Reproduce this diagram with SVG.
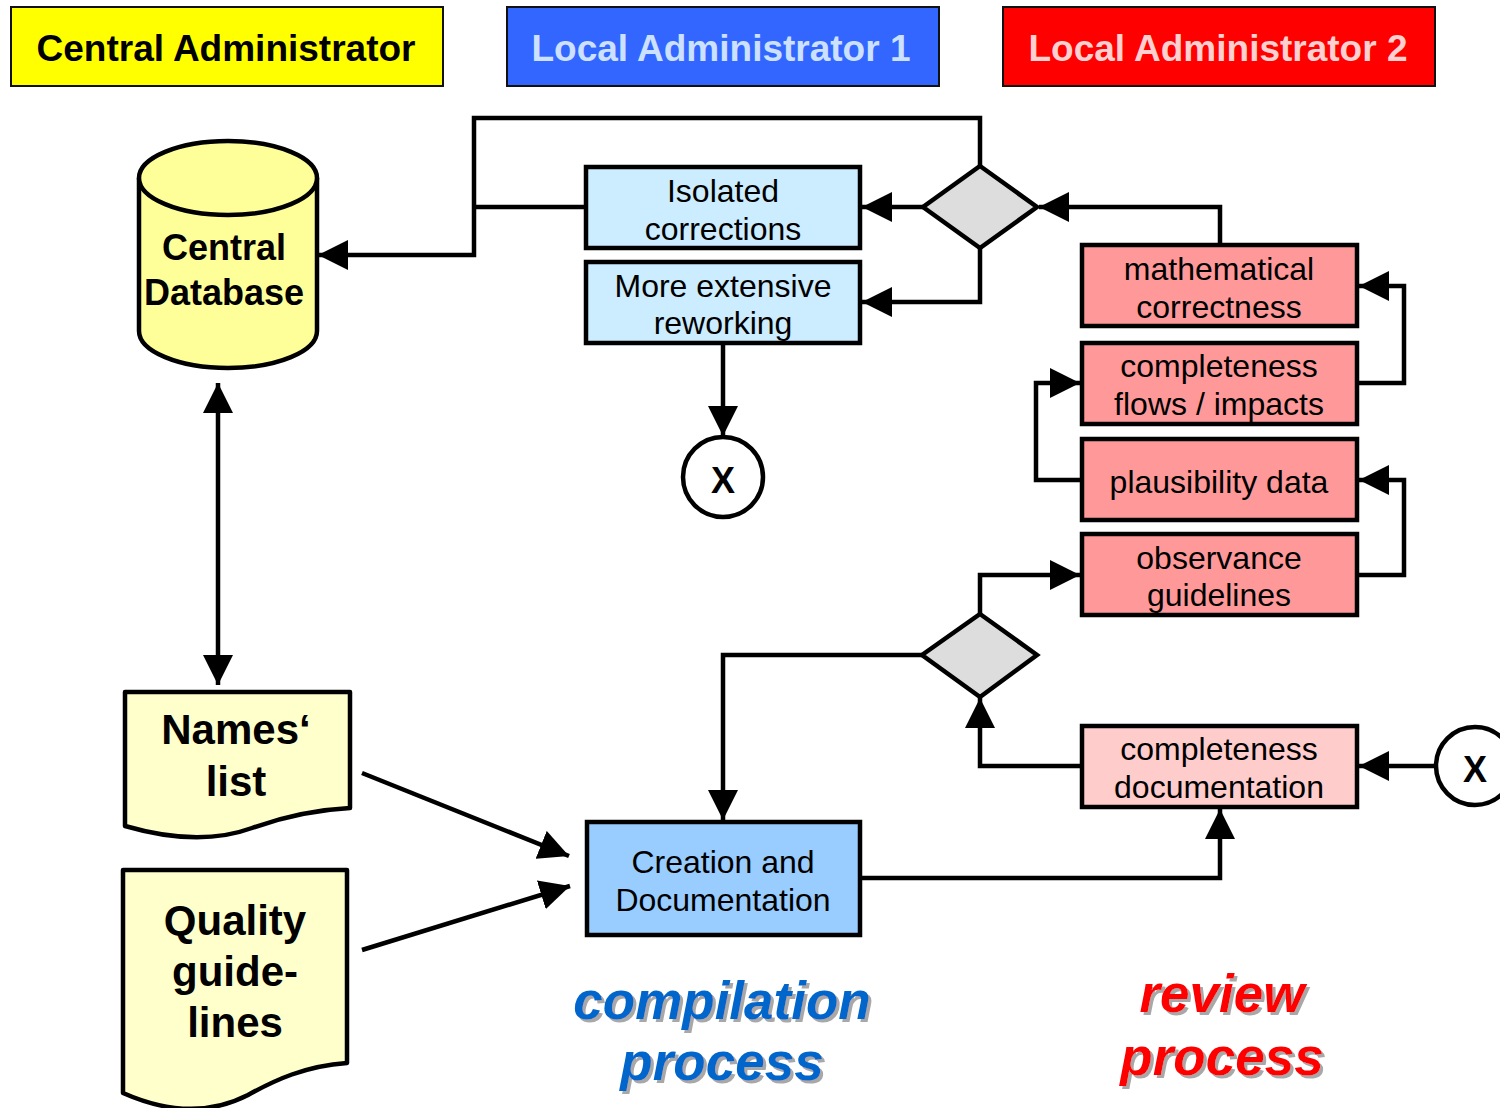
<svg xmlns="http://www.w3.org/2000/svg" width="1500" height="1108" viewBox="0 0 1500 1108">
<defs>
<marker id="arr" viewBox="0 0 30 30" refX="30" refY="15" markerWidth="30" markerHeight="30" markerUnits="userSpaceOnUse" orient="auto-start-reverse">
<path d="M0,0 L30,15 L0,30 Z" fill="#000"/>
</marker>
<filter id="shadow" x="-5%" y="-5%" width="115%" height="120%">
<feDropShadow dx="3" dy="3" stdDeviation="0.5" flood-color="#A8A8A8" flood-opacity="1"/>
</filter>
</defs>
<style>
.hdr{stroke:#111;stroke-width:2}
.box{stroke:#000;stroke-width:4.5}
.t{font-family:"Liberation Sans",Arial,sans-serif;font-size:32px;fill:#000;text-anchor:middle}
.hb{font-family:"Liberation Sans",Arial,sans-serif;font-size:37px;font-weight:bold;text-anchor:middle}
.db{font-family:"Liberation Sans",Arial,sans-serif;font-size:36px;font-weight:bold;fill:#000;text-anchor:middle}
.doc{font-family:"Liberation Sans",Arial,sans-serif;font-size:42px;font-weight:bold;fill:#000;text-anchor:middle}
.big{font-family:"Liberation Sans",Arial,sans-serif;font-size:53px;font-weight:bold;font-style:italic;text-anchor:middle;filter:url(#shadow)}
.c{fill:none;stroke:#000;stroke-width:4.5;stroke-linejoin:miter}
.a{marker-end:url(#arr)}
</style>
<rect width="1500" height="1108" fill="#fff"/>

<g id="hdr-central">
<rect class="hdr" x="11" y="7" width="432" height="79" fill="#FFFF00"/>
<text class="hb" x="226" y="61" fill="#000">Central Administrator</text>
</g>
<g id="hdr-local1">
<rect class="hdr" x="507" y="7" width="432" height="79" fill="#3366FF"/>
<text class="hb" x="721" y="61" fill="#CCE0FF">Local Administrator 1</text>
</g>
<g id="hdr-local2">
<rect class="hdr" x="1003" y="7" width="432" height="79" fill="#FF0000"/>
<text class="hb" x="1218" y="61" fill="#FFD0D0">Local Administrator 2</text>
</g>

<g id="connectors">
<path class="c a" d="M980,167 V118 H474 V255 H318"/>
<path class="c" d="M586,207 H474"/>
<path class="c a" d="M923,207 H862"/>
<path class="c a" d="M980,247 V302 H862"/>
<path class="c a" d="M1220,245 V207 H1039"/>
<path class="c a" d="M1357,383 H1404 V286 H1359"/>
<path class="c a" d="M1082,480 H1036 V383 H1080"/>
<path class="c a" d="M1357,575 H1404 V480 H1359"/>
<path class="c a" d="M980,614 V575 H1080"/>
<path class="c a" d="M922,655 H723 V820"/>
<path class="c a" d="M1082,766 H980 V698"/>
<path class="c a" d="M1436,766 H1359"/>
<path class="c a" d="M860,878 H1220 V809"/>
<path class="c a" d="M723,343 V436"/>
<path class="c a" d="M218,383 V685" marker-start="url(#arr)"/>
<path class="c a" d="M362,773 L569,856"/>
<path class="c a" d="M362,950 L570,886"/>
</g>

<g id="central-database">
<path d="M139,178 V331 A89,37 0 0 0 317,331 V178" fill="#FFFF99" stroke="#000" stroke-width="4.5"/>
<ellipse cx="228" cy="178" rx="89" ry="37" fill="#FFFF99" stroke="#000" stroke-width="4.5"/>
<text class="db" x="224" y="260">Central</text>
<text class="db" x="224" y="305">Database</text>
</g>

<g id="isolated-corrections">
<rect class="box" x="586" y="167" width="274" height="81" fill="#CCECFF"/>
<text class="t" x="723" y="202">Isolated</text>
<text class="t" x="723" y="240">corrections</text>
</g>
<g id="more-extensive-reworking">
<rect class="box" x="586" y="262" width="274" height="81" fill="#CCECFF"/>
<text class="t" x="723" y="297">More extensive</text>
<text class="t" x="723" y="334">reworking</text>
</g>

<g id="decision-1">
<path d="M980,166 L1037,207 L980,248 L923,207 Z" fill="#DDDDDD" stroke="#000" stroke-width="4.5"/>
</g>

<g id="exit-1">
<circle cx="723" cy="477" r="40" fill="#fff" stroke="#000" stroke-width="4.5"/>
<text class="db" x="723" y="493" font-size="32">X</text>
</g>

<g id="mathematical-correctness">
<rect class="box" x="1082" y="245" width="275" height="81" fill="#FF9999"/>
<text class="t" x="1219" y="280">mathematical</text>
<text class="t" x="1219" y="318">correctness</text>
</g>
<g id="completeness-flows">
<rect class="box" x="1082" y="343" width="275" height="81" fill="#FF9999"/>
<text class="t" x="1219" y="377">completeness</text>
<text class="t" x="1219" y="415">flows / impacts</text>
</g>
<g id="plausibility-data">
<rect class="box" x="1082" y="439" width="275" height="81" fill="#FF9999"/>
<text class="t" x="1219" y="493">plausibility data</text>
</g>
<g id="observance-guidelines">
<rect class="box" x="1082" y="534" width="275" height="81" fill="#FF9999"/>
<text class="t" x="1219" y="569">observance</text>
<text class="t" x="1219" y="606">guidelines</text>
</g>

<g id="decision-2">
<path d="M980,614 L1037,655 L980,697 L922,655 Z" fill="#DDDDDD" stroke="#000" stroke-width="4.5"/>
</g>

<g id="completeness-documentation">
<rect class="box" x="1082" y="726" width="275" height="81" fill="#FFCCCC"/>
<text class="t" x="1219" y="760">completeness</text>
<text class="t" x="1219" y="798">documentation</text>
</g>

<g id="exit-2">
<circle cx="1475" cy="766" r="39" fill="#fff" stroke="#000" stroke-width="4.5"/>
<text class="db" x="1475" y="782" font-size="32">X</text>
</g>

<g id="creation-documentation">
<rect class="box" x="587" y="822" width="273" height="113" fill="#99CCFF"/>
<text class="t" x="723" y="873">Creation and</text>
<text class="t" x="723" y="911">Documentation</text>
</g>

<g id="names-list">
<path d="M125,692 H350 V808 C310,810 280,818 252,828 C222,839 180,842 125,826 Z" fill="#FFFFCC" stroke="#000" stroke-width="4.5" stroke-linejoin="round"/>
<text class="doc" x="236" y="744">Names‘</text>
<text class="doc" x="236" y="796">list</text>
</g>

<g id="quality-guidelines">
<path d="M123,870 H347 V1063 C305,1066 275,1080 248,1095 C215,1112 175,1116 123,1093 Z" fill="#FFFFCC" stroke="#000" stroke-width="4.5" stroke-linejoin="round"/>
<text class="doc" x="235" y="935">Quality</text>
<text class="doc" x="235" y="986">guide-</text>
<text class="doc" x="235" y="1037">lines</text>
</g>

<g id="label-compilation">
<text class="big" x="722" y="1019" fill="#0066CC">compilation</text>
<text class="big" x="722" y="1080" fill="#0066CC">process</text>
</g>
<g id="label-review">
<text class="big" x="1222" y="1012" fill="#FF0000">review</text>
<text class="big" x="1222" y="1075" fill="#FF0000">process</text>
</g>
</svg>
